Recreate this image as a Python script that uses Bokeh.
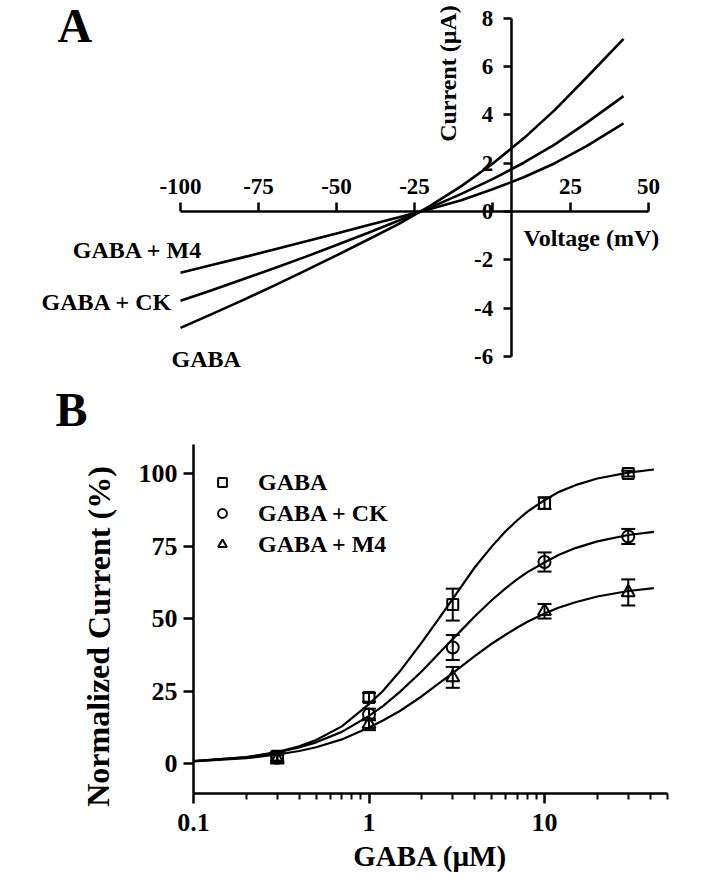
from bokeh.plotting import figure
from bokeh.models import (LinearAxis, LogAxis, FixedTicker, Range1d, Label, Legend,
                          Whisker, TeeHead, ColumnDataSource)
from bokeh.layouts import column
from bokeh.embed import file_html
from bokeh.resources import INLINE

FONT = "Liberation Serif"

# ---- panel A: I-V curves ----
voltage = [-100, -90, -80, -70, -60, -50, -40, -30, -20, -10, 0, 10, 20, 30, 42]
i_gaba = [-4.82, -4.25, -3.67, -3.07, -2.45, -1.82, -1.17, -0.51, 0.23, 1.05, 1.98, 3.03, 4.21, 5.53, 7.15]
i_ck = [-3.70, -3.26, -2.81, -2.35, -1.88, -1.39, -0.89, -0.37, 0.16, 0.73, 1.34, 2.02, 2.78, 3.66, 4.78]
i_m4 = [-2.54, -2.22, -1.90, -1.57, -1.24, -0.91, -0.57, -0.24, 0.10, 0.47, 0.92, 1.42, 2.00, 2.70, 3.65]
volt_ticks = [-100, -75, -50, -25, 0, 25, 50]
volt_labels = ["-100", "-75", "-50", "-25", "", "25", "50"]
curr_ticks = [-6, -4, -2, 0, 2, 4, 6, 8]
curr_labels = ["-6", "-4", "-2", "0", "2", "4", "6", "8"]
yaxis_at = 6  # the current axis crosses the voltage axis here

# ---- panel B: dose-response ----
conc = [0.3, 1, 3, 10, 30]
gaba_mean = [2.5, 22.8, 54.8, 89.8, 100.0]
gaba_sem = [1.5, 1.5, 5.5, 2.0, 1.0]
ck_mean = [2.0, 16.9, 40.0, 69.5, 78.3]
ck_sem = [1.5, 2.0, 4.3, 3.3, 2.6]
m4_mean = [1.5, 13.5, 29.7, 52.5, 59.0]
m4_sem = [1.5, 2.0, 3.6, 2.5, 4.5]

# fitted curves
fit_conc = [0.1, 0.2, 0.3, 0.4, 0.5, 0.7, 1, 1.2, 1.5, 2, 2.5, 3, 4, 5, 6, 7, 8,
            10, 12, 15, 20, 30, 42]
fit_gaba = [0.8, 2.2, 3.9, 5.9, 8.1, 12.8, 20.5, 25.0, 31.8, 41.8, 50.0, 56.8, 67.6,
            74.8, 80.1, 83.9, 86.9, 90.8, 93.6, 96.0, 98.3, 100.3, 101.4]
fit_ck = [0.8, 2.1, 3.8, 5.5, 7.3, 10.9, 16.4, 19.8, 24.7, 31.8, 37.9, 42.9, 50.7,
          56.3, 60.4, 63.6, 66.0, 69.3, 71.9, 74.3, 76.6, 78.8, 79.9]
fit_m4 = [0.75, 1.8, 3.1, 4.3, 5.6, 8.3, 12.4, 14.8, 18.1, 23.2, 27.6, 31.2, 37.0,
          41.3, 44.4, 46.9, 48.9, 51.7, 53.7, 55.6, 57.6, 59.5, 60.5]

conc_ticks = [0.1, 1, 10]
conc_labels = ["0.1", "1", "10"]
conc_minor = [0.2, 0.3, 0.4, 0.5, 0.6, 0.7, 0.8, 0.9,
              2, 3, 4, 5, 6, 7, 8, 9, 20, 30, 40, 50]
norm_ticks = [0, 25, 50, 75, 100]


def add_text(p, x, y, text, size, align="left", baseline="alphabetic", angle=0):
    # x, y in pixels from the figure's bottom-left corner
    p.add_layout(Label(x=x, y=y, x_units="screen", y_units="screen", text=text,
                       text_font=FONT, text_font_style="bold", text_font_size=size,
                       text_align=align, text_baseline=baseline, angle=angle,
                       text_color="black"))


def style_axis(ax, size):
    ax.axis_line_width = 2.5
    ax.major_tick_line_width = 2.5
    ax.minor_tick_line_width = 2
    ax.axis_line_color = "black"
    ax.major_tick_line_color = "black"
    ax.minor_tick_line_color = "black"
    ax.major_label_text_font = FONT
    ax.major_label_text_font_style = "bold"
    ax.major_label_text_font_size = size
    ax.major_label_text_color = "black"


def bare_figure(w, h, **kw):
    p = figure(width=w, height=h, x_axis_location=None, y_axis_location=None,
               toolbar_location=None, output_backend="svg",
               min_border_left=0, min_border_right=0,
               min_border_top=0, min_border_bottom=0, **kw)
    p.outline_line_color = None
    p.grid.grid_line_color = None
    return p


# panel A: the frame fills the figure, axes sit where they cross
pa = bare_figure(692, 380, x_range=Range1d(-157.7, 64.1), y_range=Range1d(-7.0, 8.74))

xa = LinearAxis(fixed_location=0, bounds=(-100, 50), ticker=FixedTicker(ticks=volt_ticks),
                major_tick_in=9, major_tick_out=0, minor_tick_in=0, minor_tick_out=0,
                major_label_standoff=-33,
                major_label_overrides=dict(zip(volt_ticks, volt_labels)))
style_axis(xa, "23px")
pa.add_layout(xa, "below")

ya = LinearAxis(fixed_location=yaxis_at, bounds=(-6, 8), ticker=FixedTicker(ticks=curr_ticks),
                major_tick_in=0, major_tick_out=8, minor_tick_in=0, minor_tick_out=0,
                major_label_standoff=10,
                major_label_overrides=dict(zip(curr_ticks, curr_labels)))
style_axis(ya, "23px")
pa.add_layout(ya, "left")

for cur in (i_gaba, i_ck, i_m4):
    pa.line(voltage, cur, line_width=2.6, line_color="black")

add_text(pa, 57, 355, "A", "48px")
add_text(pa, 202, 131, "GABA + M4", "24px", align="right")
add_text(pa, 172, 79, "GABA + CK", "24px", align="right")
add_text(pa, 171, 22, "GABA", "24px")
add_text(pa, 447, 307, "Current (\u00b5A)", "24px", align="center", baseline="middle",
         angle=1.5707963)
add_text(pa, 523, 143, "Voltage (mV)", "24px")

# panel B
pb = bare_figure(692, 492, x_axis_type="log",
                 x_range=Range1d(0.00795, 69.7), y_range=Range1d(-37.6, 132.1))

xb = LogAxis(fixed_location=-10.3, bounds=(0.1, 50),
             ticker=FixedTicker(ticks=conc_ticks, minor_ticks=conc_minor),
             major_tick_out=10, major_tick_in=0, minor_tick_out=6, minor_tick_in=0,
             major_label_standoff=11,
             major_label_overrides=dict(zip(conc_ticks, conc_labels)))
style_axis(xb, "26px")
pb.add_layout(xb, "below")

yb = LinearAxis(fixed_location=0.1, bounds=(-10.3, 110), ticker=FixedTicker(ticks=norm_ticks),
                major_tick_out=10, major_tick_in=0, minor_tick_out=0, minor_tick_in=0,
                major_label_standoff=6)
style_axis(yb, "26px")
pb.add_layout(yb, "left")

for fit in (fit_gaba, fit_ck, fit_m4):
    pb.line(fit_conc, fit, line_width=2.2, line_color="black")

series = [("GABA", gaba_mean, gaba_sem, "square", 11),
          ("GABA + CK", ck_mean, ck_sem, "circle", 12),
          ("GABA + M4", m4_mean, m4_sem, "triangle", 13)]
items = []
for name, mean, sem, marker, size in series:
    src = ColumnDataSource(data=dict(
        x=conc, y=mean,
        upper=[m + s for m, s in zip(mean, sem)],
        lower=[m - s for m, s in zip(mean, sem)]))
    pb.add_layout(Whisker(source=src, base="x", upper="upper", lower="lower",
                          dimension="height", line_width=2, line_color="black",
                          upper_head=TeeHead(size=14, line_width=2, line_color="black"),
                          lower_head=TeeHead(size=14, line_width=2, line_color="black")))
    r = pb.scatter("x", "y", source=src, marker=marker, size=size, line_width=2,
                   line_color="black", fill_color=None)
    items.append((name, [r]))

legend = Legend(items=items, location=(211, 314), orientation="vertical",
                glyph_width=22, glyph_height=28, label_height=28, spacing=3,
                label_standoff=25, padding=0, margin=0,
                border_line_color=None, background_fill_alpha=0,
                label_text_font=FONT, label_text_font_style="bold",
                label_text_font_size="24px", label_text_color="black")
pb.add_layout(legend)

add_text(pb, 55, 463, "B", "48px")
add_text(pb, 430, 17, "GABA (\u00b5M)", "29px", align="center")
add_text(pb, 98, 236, "Normalized Current (%)", "32px", align="center",
         baseline="middle", angle=1.5707963)

layout = column(pa, pb)
open("out.html", "w").write(file_html(layout, INLINE))
